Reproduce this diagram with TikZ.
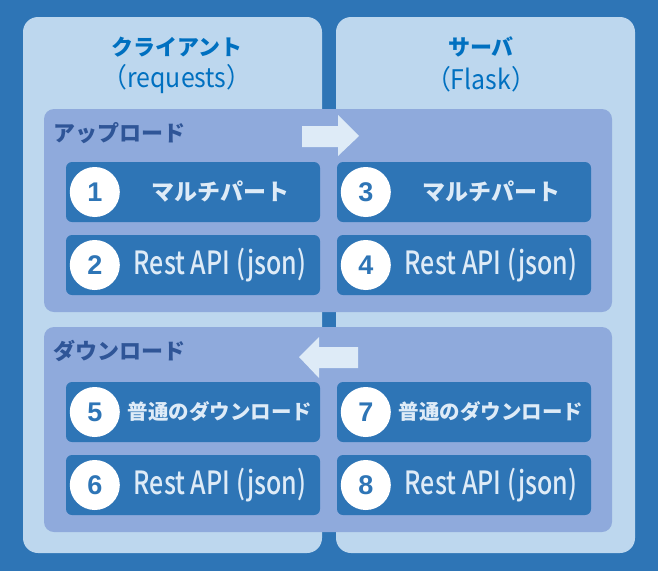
\documentclass[tikz,border=0pt]{standalone}
\usepackage{fontspec}
\usetikzlibrary{calc}
\setmainfont{Noto Sans CJK JP}
\newfontfamily\jpfont{Noto Sans CJK JP}
\newfontfamily\numfont{Liberation Sans}
\newfontfamily\narrowfont{Noto Sans CJK JP Medium}[FakeStretch=0.78]
\newfontfamily\titlelatin{Noto Sans CJK JP}[FakeStretch=0.92]

\definecolor{bgblue}{HTML}{2E75B6}
\definecolor{colfill}{HTML}{BDD7EE}
\definecolor{bandfill}{HTML}{8FAADC}
\definecolor{boxfill}{HTML}{2E75B6}
\definecolor{paletext}{HTML}{DEEBF7}
\definecolor{titleblue}{HTML}{0070C0}
\definecolor{banddark}{HTML}{2F5597}

% one numbered item: name, centre x, centre y, number, text, text font
\newcommand\itemrow[6]{%
  \node[itembox] (#1) at (#2,#3) {};
  \node[numdisc] (#1n) at ($(#1.west)+(29,0)$) {#4};
  \node[itemtext, font=#6] (#1t) at ($($(#1.west)+(54,0)$)!0.5!(#1.east)$) {#5};
}

\begin{document}
\begin{tikzpicture}[x=1pt,y=-1pt,
  column/.style={fill=colfill, rounded corners=15pt, minimum width=299pt,
    minimum height=536pt, inner sep=0pt},
  band/.style={fill=bandfill, rounded corners=10pt, minimum width=568pt, inner sep=0pt},
  itembox/.style={fill=boxfill, rounded corners=6pt, minimum width=254pt,
    minimum height=60pt, inner sep=0pt},
  numdisc/.style={circle, fill=white, minimum size=50pt, inner sep=0pt, text=boxfill,
    font=\numfont\bfseries\fontsize{27}{27}\selectfont},
  itemtext/.style={text=paletext, inner sep=0pt},
  title/.style={text=titleblue, inner sep=0pt},
  bandlabel/.style={text=banddark, inner sep=0pt, anchor=west,
    font=\jpfont\bfseries\fontsize{22}{22}\selectfont},
  blockarrow/.style={fill=paletext}
]
\useasboundingbox (0,0) rectangle (658,571);
\fill[bgblue] (0,0) rectangle (658,571);

% two columns
\node[column] (client) at (172.5,285) {};
\node[column] (server) at (485.5,285) {};

\node[title, font=\jpfont\bfseries\fontsize{22}{22}\selectfont] (clienttitle) at (177,47) {クライアント};
\node[title, font=\titlelatin\fontsize{27}{27}\selectfont] (clientlib) at (177,79) {（requests）};
\node[title, font=\jpfont\bfseries\fontsize{22}{22}\selectfont] (servertitle) at (481,47) {サーバ};
\node[title, font=\titlelatin\fontsize{27}{27}\selectfont] (serverlib) at (481,79) {（Flask）};

% bands
\node[band, minimum height=203pt] (upload) at (328,210.5) {};
\node[band, minimum height=205pt] (download) at (328,429.5) {};
\node[bandlabel] (uploadlabel) at (53,133) {アップロード};
\node[bandlabel] (downloadlabel) at (53,351) {ダウンロード};

% direction arrows
\fill[blockarrow] (302,126) -- (338,126) -- (338,115) -- (359,136) -- (338,156)
  -- (338,147) -- (302,147) -- cycle;
\fill[blockarrow] (358,347) -- (319,347) -- (319,337) -- (299,357) -- (319,378)
  -- (319,368) -- (358,368) -- cycle;

% items
\itemrow{b1}{193}{192}{1}{マルチパート}{\jpfont\bfseries\fontsize{23}{23}\selectfont}
\itemrow{b2}{193}{265}{2}{Rest API (json)}{\narrowfont\fontsize{32}{32}\selectfont}
\itemrow{b3}{464}{192}{3}{マルチパート}{\jpfont\bfseries\fontsize{23}{23}\selectfont}
\itemrow{b4}{464}{265}{4}{Rest API (json)}{\narrowfont\fontsize{32}{32}\selectfont}
\itemrow{b5}{193}{412}{5}{普通のダウンロード}{\jpfont\bfseries\fontsize{20.5}{20.5}\selectfont}
\itemrow{b6}{193}{485}{6}{Rest API (json)}{\narrowfont\fontsize{32}{32}\selectfont}
\itemrow{b7}{464}{412}{7}{普通のダウンロード}{\jpfont\bfseries\fontsize{20.5}{20.5}\selectfont}
\itemrow{b8}{464}{485}{8}{Rest API (json)}{\narrowfont\fontsize{32}{32}\selectfont}
\end{tikzpicture}
\end{document}
